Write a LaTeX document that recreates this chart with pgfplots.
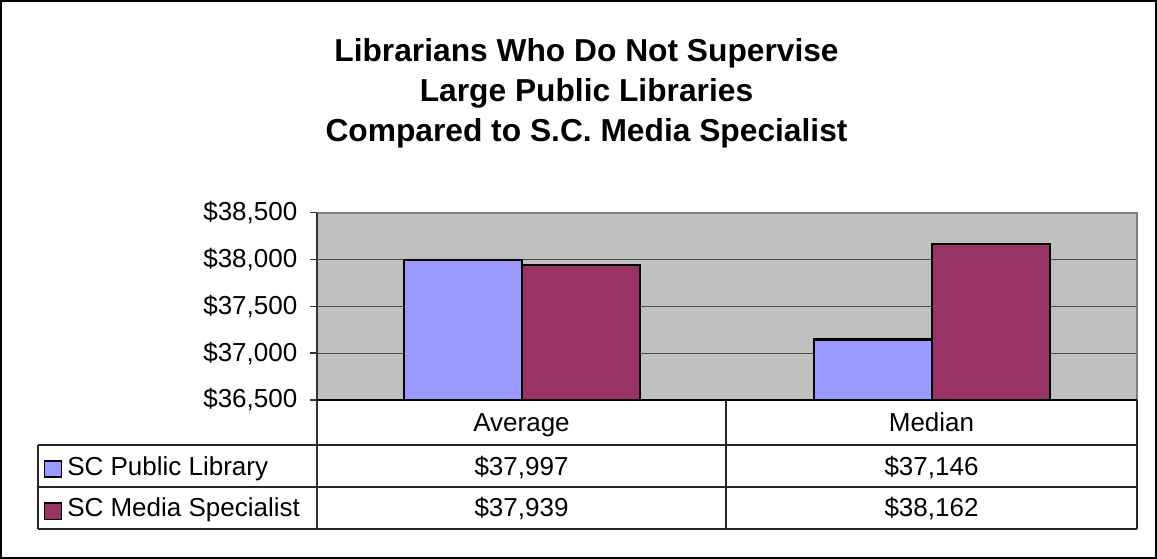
\documentclass[border=0pt]{standalone}
\usepackage{pgfplots}
\pgfplotsset{compat=1.18}
\usepackage{fontspec}
\setmainfont{Liberation Sans}
\definecolor{barblue}{HTML}{9999FF}
\definecolor{barmaroon}{HTML}{993366}
\definecolor{plotbg}{HTML}{C0C0C0}
\definecolor{frameg}{HTML}{808080}
\newcommand{\tfont}{\fontsize{19.5pt}{23pt}\selectfont}
\newcommand{\hfont}{\fontsize{23.8pt}{28pt}\selectfont\bfseries}
\begin{document}
\begin{tikzpicture}
\begin{scope}[x=0.75pt,y=-0.75pt]
\useasboundingbox (0,0) rectangle (1157,559);
\end{scope}
\begin{axis}[
  at={(237.75pt,-300pt)}, anchor=south west,
  scale only axis, width=615pt, height=140.5pt,
  xmin=-0.5, xmax=1.5, ymin=36500, ymax=38500,
  xtick=\empty,
  scaled y ticks=false,
  ytick={36500,37000,37500,38000,38500},
  yticklabels={{\$36,500},{\$37,000},{\$37,500},{\$38,000},{\$38,500}},
  ytick pos=left, tick align=outside, major tick length=5.25pt,
  major tick style={draw=black!80, line width=1.2pt},
  yticklabel style={font=\tfont, xshift=-6pt},
  ymajorgrids, grid style={draw=black!70, line width=0.9pt},
  axis line style={draw=none},
  axis background/.style={fill=plotbg},
  ybar, bar width=0.287,
  clip=true,
]
\addplot[fill=barblue, draw=black, line width=1.6pt, bar shift=-0.1435] coordinates {(0,37997) (1,37146)};
\addplot[fill=barmaroon, draw=black, line width=1.6pt, bar shift=0.1435] coordinates {(0,37939) (1,38162)};
\end{axis}
\begin{scope}[x=0.75pt,y=-0.75pt]
% outer frame
\draw[black, line width=1.2pt] (1,1) rectangle (1156,558);
% title
\node[anchor=base, font=\hfont] at (586.5,61.7) {Librarians Who Do Not Supervise};
\node[anchor=base, font=\hfont] at (586.5,101.7) {Large Public Libraries};
\node[anchor=base, font=\hfont] at (586.5,141.7) {Compared to S.C. Media Specialist};
% plot frame
\draw[frameg, line width=1.5pt] (317,212.7) -- (1136.5,212.7) -- (1136.5,400);
\draw[black!80, line width=1.3pt] (317,212.7) -- (317,529);
% data table
\draw[black, line width=1.3pt] (317,400) -- (1137,400);
\draw[black!85, line width=1.1pt] (38,445) -- (1137,445);
\draw[black!85, line width=1.1pt] (38,487) -- (1137,487);
\draw[black!85, line width=1.1pt] (38,529) -- (1137,529);
\draw[black!85, line width=1.1pt] (38,445) -- (38,529);
\draw[black!85, line width=1.1pt] (726,400) -- (726,529);
\draw[black!85, line width=1.1pt] (1137,400) -- (1137,529);
\node[anchor=base, font=\tfont] at (521.5,431.7) {Average};
\node[anchor=base, font=\tfont] at (931.5,431.7) {Median};
\node[anchor=base, font=\tfont] at (521.5,475) {\$37,997};
\node[anchor=base, font=\tfont] at (931.5,475) {\$37,146};
\node[anchor=base, font=\tfont] at (521.5,516.7) {\$37,939};
\node[anchor=base, font=\tfont] at (931.5,516.7) {\$38,162};
\draw[black, line width=1.3pt, fill=barblue] (44.5,461) rectangle (61.5,477);
\draw[black, line width=1.3pt, fill=barmaroon] (44.5,503) rectangle (61.5,519.5);
\node[anchor=base west, inner sep=0pt, font=\tfont] at (67,475) {SC Public Library};
\node[anchor=base west, inner sep=0pt, font=\tfont] at (67,516.7) {SC Media Specialist};
\end{scope}
\end{tikzpicture}
\end{document}
